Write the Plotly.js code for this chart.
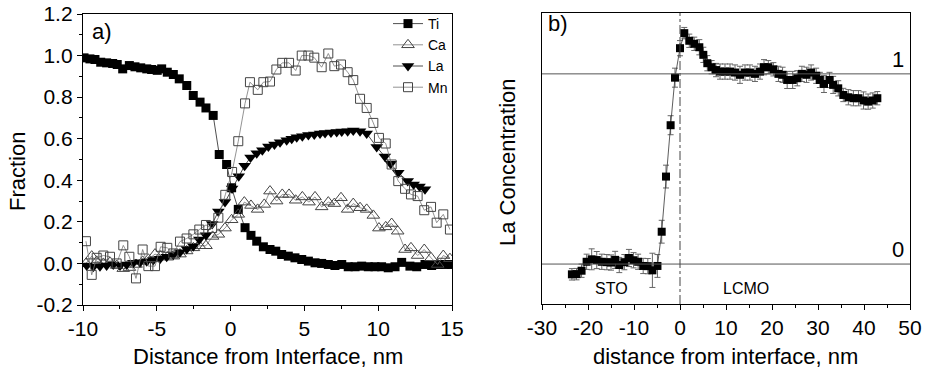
<!DOCTYPE html>
<html><head><meta charset="utf-8">
<script src="https://cdn.plot.ly/plotly-3.0.1.min.js"></script>
<style>html,body{margin:0;padding:0;background:#fff}#chart{width:927px;height:373px}</style>
</head><body><div id="chart"></div>
<script>
// Panel a) : composition fractions vs distance
const tiX = [-9.93,-9.53,-9.19,-8.80,-8.40,-7.99,-7.68,-7.31,-6.86,-6.48,-6.09,-5.68,-5.35,-4.97,-4.67,-4.29,-3.88,-3.48,-2.97,-2.53,-2.07,-1.67,-1.18,-0.77,-0.27,0.07,0.52,0.98,1.38,1.77,2.22,2.67,3.06,3.46,3.91,4.36,4.82,5.27,5.72,6.17,6.62,7.07,7.53,7.97,8.43,8.88,9.33,9.78,10.23,10.68,11.14,11.59,12.15,12.61,13.17,13.62,14.07,14.53,14.98];
const tiY = [0.989,0.984,0.981,0.968,0.965,0.962,0.957,0.936,0.952,0.946,0.941,0.936,0.933,0.929,0.936,0.92,0.909,0.888,0.856,0.808,0.776,0.748,0.712,0.524,0.476,0.364,0.26,0.172,0.135,0.107,0.08,0.067,0.059,0.043,0.035,0.027,0.019,0.011,0.003,0.0,-0.005,-0.01,-0.005,-0.016,-0.016,-0.013,-0.016,-0.016,-0.016,-0.021,-0.016,0.005,-0.013,-0.016,-0.005,-0.01,-0.005,-0.005,-0.005];

const caX = [-9.8,-9.41,-9.07,-8.62,-8.17,-7.72,-7.27,-6.86,-6.41,-5.96,-5.57,-5.12,-4.74,-4.29,-3.88,-3.43,-2.98,-2.52,-2.12,-1.67,-1.22,-0.83,-0.38,0.07,0.52,0.93,1.38,1.83,2.28,2.67,3.12,3.5,3.96,4.41,4.86,5.31,5.72,6.17,6.62,7.03,7.48,7.93,8.31,8.77,9.22,9.67,10.05,10.51,10.91,11.32,11.82,12.22,12.67,13.12,13.58,14.03,14.41,14.86];
const caY = [0.0,0.035,0.01,0.0,0.005,-0.01,-0.025,-0.02,-0.005,0.01,0.02,0.045,0.035,0.03,0.035,0.045,0.06,0.075,0.085,0.085,0.13,0.14,0.17,0.21,0.236,0.295,0.279,0.26,0.284,0.348,0.3,0.332,0.332,0.304,0.32,0.295,0.32,0.272,0.295,0.288,0.316,0.26,0.288,0.268,0.26,0.231,0.17,0.176,0.192,0.155,0.067,0.075,0.038,0.067,0.027,-0.005,0.038,0.023];

const laX = [-9.75,-9.3,-8.85,-8.4,-7.95,-7.49,-7.04,-6.59,-6.14,-5.68,-5.24,-4.78,-4.33,-3.88,-3.43,-2.97,-2.53,-2.12,-1.67,-1.25,-0.83,-0.38,0.1,0.55,0.95,1.35,1.77,2.15,2.56,2.97,3.35,3.8,4.14,4.48,4.86,5.27,5.67,6.06,6.4,6.8,7.19,7.53,7.93,8.31,8.77,9.22,9.9,10.45,10.85,11.36,12.0,12.4,12.8,13.17];
const laY = [-0.01,-0.016,-0.013,-0.01,-0.005,-0.01,-0.005,0.003,0.006,0.011,0.016,0.022,0.032,0.043,0.054,0.07,0.083,0.115,0.135,0.19,0.25,0.295,0.36,0.42,0.47,0.51,0.53,0.545,0.562,0.572,0.583,0.593,0.6,0.607,0.612,0.618,0.62,0.625,0.627,0.63,0.632,0.635,0.636,0.64,0.636,0.625,0.56,0.515,0.48,0.436,0.396,0.38,0.37,0.357];

const mnX = [-9.80,-9.41,-9.07,-8.62,-8.17,-7.72,-7.27,-6.86,-6.41,-5.96,-5.57,-5.12,-4.74,-4.29,-3.88,-3.43,-2.98,-2.52,-2.12,-1.67,-1.25,-0.83,-0.36,0.1,0.52,0.98,1.31,1.84,2.22,2.67,3.1,3.5,3.96,4.41,4.82,5.27,5.67,6.17,6.62,7.03,7.48,7.93,8.31,8.77,9.22,9.67,10.05,10.51,10.91,11.36,11.82,12.22,12.67,13.12,13.58,13.96,14.41,14.86];
const mnY = [0.107,-0.055,0.027,0.038,0.032,0.0,0.087,0.032,-0.072,0.067,-0.013,-0.013,0.08,0.075,0.048,0.105,0.12,0.14,0.163,0.185,0.17,0.22,0.33,0.44,0.588,0.77,0.872,0.835,0.872,0.875,0.933,0.965,0.965,0.928,1.0,1.0,0.99,0.944,1.01,0.949,0.957,0.92,0.882,0.792,0.748,0.676,0.604,0.577,0.476,0.396,0.359,0.332,0.324,0.256,0.272,0.196,0.236,0.163];

// Panel b) : La concentration profile with error bars
const bX = [-23.5,-22.5,-21.4,-20.3,-19.2,-18.1,-17.0,-15.9,-15.0,-14.1,-13.2,-12.1,-11.1,-10.1,-9.1,-8.0,-7.0,-6.0,-4.9,
  -3.98,-3.04,-2.04,-1.09,0.0,0.93,
  2.02,3.1,4.2,5.07,5.94,6.88,7.83,8.7,9.78,10.87,11.96,13.04,14.13,15.2,16.3,17.4,18.26,19.2,20.3,21.4,22.3,23.3,24.5,25.5,26.5,27.5,28.5,29.6,30.4,31.3,32.5,33.3,34.4,35.5,36.6,37.7,38.8,39.9,40.9,41.9,42.9];
const bY = [-0.054,-0.053,-0.035,0.012,0.025,0.021,0.012,0.01,0.008,0.022,-0.005,0.01,0.032,0.02,0.012,-0.01,-0.011,-0.033,-0.01,
  0.17,0.46,0.73,0.98,1.135,1.214,
  1.174,1.158,1.14,1.10,1.056,1.035,1.02,1.012,1.012,1.012,1.007,0.995,1.007,1.007,1.0,1.012,1.035,1.035,1.024,1.0,0.995,0.968,0.968,0.977,1.0,0.995,1.007,0.99,0.968,0.947,0.968,0.942,0.924,0.889,0.877,0.872,0.872,0.86,0.854,0.86,0.872];
const bErr = [0.03,0.03,0.035,0.04,0.055,0.045,0.04,0.04,0.04,0.045,0.04,0.04,0.045,0.04,0.04,0.04,0.04,0.09,0.06,
  0.06,0.06,0.05,0.05,0.04,0.03,
  0.035,0.035,0.04,0.04,0.04,0.035,0.035,0.04,0.04,0.04,0.04,0.045,0.04,0.04,0.04,0.04,0.04,0.035,0.035,0.04,0.04,0.045,0.045,0.04,0.04,0.04,0.04,0.04,0.04,0.045,0.04,0.045,0.04,0.035,0.04,0.04,0.04,0.045,0.04,0.04,0.035];

const aXTicks = [-10,-5,0,5,10,15];
const aXTickText = ['-10','-5','0','5','10','15'];
const aYTicks = [-0.2,0,0.2,0.4,0.6,0.8,1.0,1.2];
const aYTickText = ['-0.2','0.0','0.2','0.4','0.6','0.8','1.0','1.2'];
const bXTicks = [-30,-20,-10,0,10,20,30,40,50];
const bXTickText = ['-30','-20','-10','0','10','20','30','40','50'];

const FONT = 'Liberation Sans, Arial, Helvetica, sans-serif';

const traces = [
  {x: tiX, y: tiY, name: 'Ti', type: 'scatter', mode: 'lines+markers', xaxis: 'x', yaxis: 'y',
   line: {color: '#222', width: 0.8}, marker: {symbol: 'square', size: 9, color: '#000'}},
  {x: caX, y: caY, name: 'Ca', type: 'scatter', mode: 'lines+markers', xaxis: 'x', yaxis: 'y',
   line: {color: '#777', width: 0.8}, marker: {symbol: 'triangle-up-open', size: 11, color: '#444', line: {width: 1}}},
  {x: laX, y: laY, name: 'La', type: 'scatter', mode: 'lines+markers', xaxis: 'x', yaxis: 'y',
   line: {color: '#222', width: 0.8}, marker: {symbol: 'triangle-down', size: 11, color: '#000'}},
  {x: mnX, y: mnY, name: 'Mn', type: 'scatter', mode: 'lines+markers', xaxis: 'x', yaxis: 'y',
   line: {color: '#777', width: 0.8}, marker: {symbol: 'square-open', size: 9, color: '#444', line: {width: 1}}},
  {x: bX, y: bY, name: 'La conc.', type: 'scatter', mode: 'lines+markers', xaxis: 'x2', yaxis: 'y2', showlegend: false,
   line: {color: '#333', width: 0.8}, marker: {symbol: 'square', size: 8, color: '#000'},
   error_y: {type: 'data', array: bErr, visible: true, color: '#666', thickness: 1, width: 3}}
];

const axisCommon = {showline: true, linecolor: '#000', linewidth: 1.2, mirror: true, showgrid: false, zeroline: false,
  ticks: 'outside', ticklen: 5, tickwidth: 1, tickcolor: '#000', tickfont: {family: FONT, size: 21, color: '#000'}};

function ann(text, x, y, size, extra) {
  return Object.assign({text: text, xref: 'paper', yref: 'paper', x: x / 927, y: 1 - y / 373,
    xanchor: 'center', yanchor: 'middle', showarrow: false, font: {family: FONT, size: size, color: '#000'}}, extra || {});
}

const layout = {
  width: 927, height: 373, margin: {l: 0, r: 0, t: 0, b: 0},
  paper_bgcolor: '#fff', plot_bgcolor: '#fff',
  font: {family: FONT, color: '#000'},
  showlegend: true,
  legend: {x: 388/927, xanchor: 'left', y: 1 - 8/373, yanchor: 'top', bgcolor: 'rgba(0,0,0,0)',
    font: {family: FONT, size: 14, color: '#000'}, tracegroupgap: 0, itemwidth: 30},
  xaxis: Object.assign({}, axisCommon, {domain: [83/927, 452/927], anchor: 'y', range: [-10, 15],
    tickmode: 'array', tickvals: aXTicks, ticktext: aXTickText,
    minor: {tickmode: 'linear', tick0: 0, dtick: 2.5, ticks: 'outside', ticklen: 3, tickcolor: '#000'}}),
  yaxis: Object.assign({}, axisCommon, {domain: [1 - 305/373, 1 - 14/373], anchor: 'x', range: [-0.2, 1.2],
    tickmode: 'array', tickvals: aYTicks, ticktext: aYTickText,
    minor: {tickmode: 'linear', tick0: 0, dtick: 0.1, ticks: 'outside', ticklen: 3, tickcolor: '#000'}}),
  xaxis2: Object.assign({}, axisCommon, {domain: [542/927, 910/927], anchor: 'y2', range: [-30, 50],
    tickmode: 'array', tickvals: bXTicks, ticktext: bXTickText,
    minor: {tickmode: 'linear', tick0: 0, dtick: 5, ticks: 'outside', ticklen: 3, tickcolor: '#000'}}),
  yaxis2: Object.assign({}, axisCommon, {domain: [1 - 304/373, 1 - 13/373], anchor: 'x2', range: [-0.21, 1.32],
    ticks: '', showticklabels: false}),
  shapes: [
    {type: 'line', xref: 'x2 domain', x0: 0, x1: 1, yref: 'y2', y0: 0, y1: 0, line: {color: '#555', width: 1}},
    {type: 'line', xref: 'x2 domain', x0: 0, x1: 1, yref: 'y2', y0: 1, y1: 1, line: {color: '#555', width: 1}},
    {type: 'line', xref: 'x2', x0: 0, x1: 0, yref: 'y2 domain', y0: 0, y1: 1, line: {color: '#444', width: 1, dash: 'dashdot'}}
  ],
  annotations: [
    ann('a)', 102, 31, 22),
    ann('b)', 558, 23, 22),
    {text: '1', xref: 'x2 domain', yref: 'y2', x: 0.988, y: 1, xanchor: 'right', yanchor: 'bottom', showarrow: false, font: {family: FONT, size: 22, color: '#000'}},
    {text: '0', xref: 'x2 domain', yref: 'y2', x: 0.988, y: 0, xanchor: 'right', yanchor: 'bottom', showarrow: false, font: {family: FONT, size: 22, color: '#000'}},
    {text: 'STO', xref: 'x2', yref: 'y2', x: -14.8, y: -0.126, xanchor: 'center', yanchor: 'middle', showarrow: false, font: {family: FONT, size: 16, color: '#000'}},
    {text: 'LCMO', xref: 'x2', yref: 'y2', x: 14.3, y: -0.126, xanchor: 'center', yanchor: 'middle', showarrow: false, font: {family: FONT, size: 16, color: '#000'}},
    ann('Fraction', 17, 172, 22, {textangle: -90}),
    ann('Distance from Interface, nm', 268, 356, 22),
    ann('La Concentration', 507, 162, 22, {textangle: -90}),
    ann('distance from interface, nm', 725, 356, 22)
  ]
};

Plotly.newPlot('chart', traces, layout, {staticPlot: true, displayModeBar: false});
</script>
</body></html>
